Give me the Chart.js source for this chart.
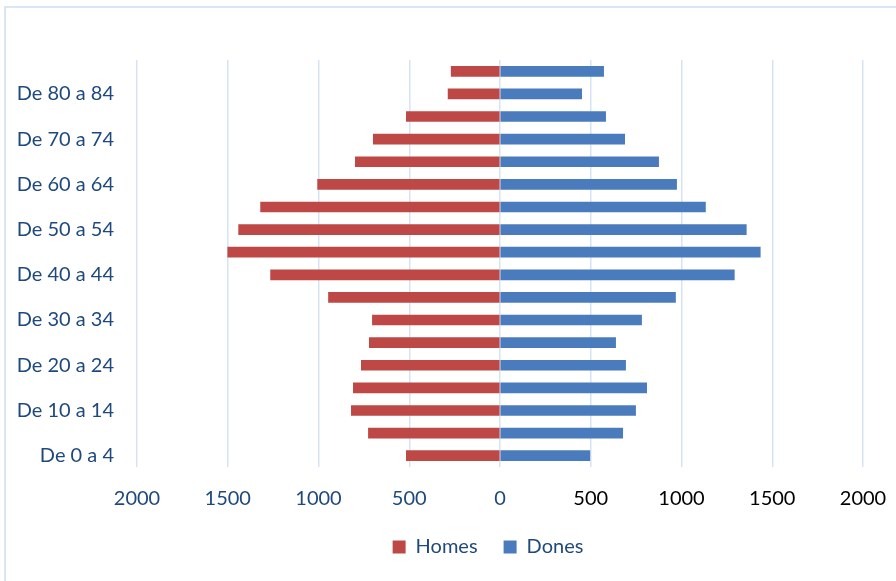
<!DOCTYPE html>
<html>
<head>
<meta charset="utf-8">
<script src="https://cdn.jsdelivr.net/npm/chart.js@4"></script>
<style>
    html, body { margin: 0; padding: 0; background: #fff; overflow: hidden; }
    #wrap { position: relative; width: 896px; height: 581px; }
    #frame {
        position: absolute; left: 4px; top: 6px; width: 1000px; height: 1000px;
        border-left: 2px solid #dbe6f4; border-top: 2px solid #dbe6f4;
    }
    canvas { position: absolute; left: 0; top: 0; }
</style>
</head>
<body>
<div id="wrap">
    <div id="frame"></div>
    <canvas id="myChart" width="896" height="581"></canvas>
</div>
<script>
// age groups, youngest first
const ageGroups = [
    "De 0 a 4", "De 5 a 9", "De 10 a 14", "De 15 a 19", "De 20 a 24",
    "De 25 a 29", "De 30 a 34", "De 35 a 39", "De 40 a 44", "De 45 a 49",
    "De 50 a 54", "De 55 a 59", "De 60 a 64", "De 65 a 69", "De 70 a 74",
    "De 75 a 79", "De 80 a 84", "De 85 a 89"
];
const homes = [516, 725, 819, 808, 764, 720, 703, 945, 1264, 1500, 1440, 1319, 1005, 797, 698, 516, 286, 269];
const dones = [495, 676, 747, 808, 692, 637, 780, 967, 1291, 1434, 1357, 1132, 973, 874, 687, 582, 450, 571];
const xTicks = [-2000, -1500, -1000, -500, 0, 500, 1000, 1500, 2000];

const blueText = "#1f497d";
const font = { family: "Lato", size: 20 };

// move the legend so it is centred where the original one sits
const legendShift = {
    id: "legendShift",
    afterLayout(chart) {
        const lg = chart.legend;
        if (!lg) return;
        const w = 400;
        lg.left = 488 - w;
        lg.right = 488 + w;
        lg.width = 2 * w;
    }
};

const ctx = document.getElementById('myChart').getContext('2d');

new Chart(ctx, {
    type: "bar",
    data: {
        labels: ageGroups,
        datasets: [
            {
                label: "Homes",
                data: homes.map(v => -v),
                backgroundColor: "#be4845",
                barThickness: 10,
            },
            {
                label: "Dones",
                data: dones,
                backgroundColor: "#4a7cbd",
                barThickness: 10,
            }
        ],
    },
    options: {
        indexAxis: 'y',
        responsive: false,
        animation: false,
        layout: { padding: { top: 60, right: 33, bottom: 14, left: 0 } },
        scales: {
            x: {
                stacked: true,
                min: -2000,
                max: 2000,
                afterBuildTicks: s => { s.ticks = xTicks.map(v => ({ value: v })); },
                afterFit: s => {
                    s.height = 44;
                    s.paddingLeft = 0;
                    s.paddingRight = 0;
                },
                grid: { color: "#d6e3f3", lineWidth: 1.5, drawTicks: false },
                border: { display: false },
                ticks: {
                    padding: 20,
                    font: font,
                    color: c => (c.tick && c.tick.value > 0) ? "#000000" : blueText,
                    callback: v => Math.abs(v),
                },
            },
            y: {
                stacked: true,
                reverse: true,
                afterFit: s => { s.width = 137; },
                grid: { display: false, drawTicks: false },
                border: { display: false },
                ticks: {
                    padding: 23,
                    autoSkip: false,
                    font: font,
                    color: blueText,
                    callback: (v, i) => i % 2 === 0 ? ageGroups[i] : "",
                },
            },
        },
        plugins: {
            legend: {
                position: "bottom",
                labels: {
                    font: font,
                    color: blueText,
                    boxWidth: 13,
                    boxHeight: 13,
                    padding: 26,
                },
            },
            tooltip: { enabled: false },
        },
    },
    plugins: [legendShift],
});
</script>
</body>
</html>
